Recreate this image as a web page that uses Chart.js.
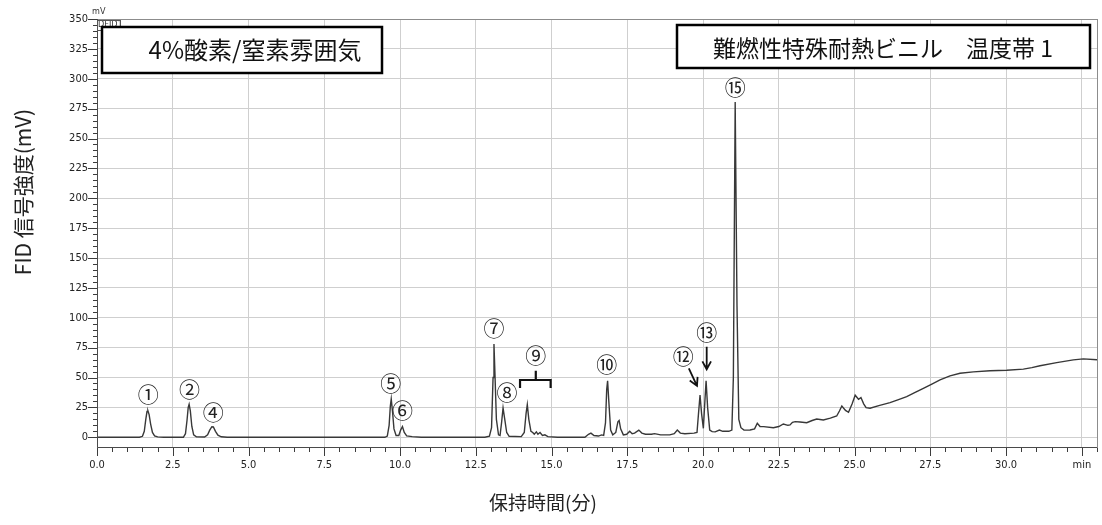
<!DOCTYPE html>
<html lang="ja">
<head>
<meta charset="utf-8">
<title>FID クロマトグラム</title>
<script src="https://cdn.jsdelivr.net/npm/chart.js@4.4.1/dist/chart.umd.min.js"></script>
<style>
  html, body { margin: 0; padding: 0; background: #fff; }
  #wrap { width: 1102px; height: 525px; }
</style>
</head>
<body>
<div id="wrap"><canvas id="c" width="1102" height="525"></canvas></div>
<script>
// Chromatogram trace: retention time (min) and FID signal (mV)
const retentionTime = [
  0.00, 1.40, 1.50, 1.56, 1.61, 1.65, 1.68, 1.72, 1.77, 1.83, 1.90, 2.00, 2.20,
  2.85, 2.92, 2.97, 3.01, 3.04, 3.08, 3.13, 3.19, 3.28, 3.55, 3.65, 3.72, 3.79,
  3.84, 3.91, 3.99, 4.10, 4.30,
  9.50, 9.58, 9.64, 9.68, 9.71, 9.75, 9.80, 9.87, 9.96, 10.02, 10.08, 10.14,
  10.22, 10.40, 10.70,
  12.80, 12.95, 13.02, 13.07, 13.10, 13.13, 13.18, 13.25, 13.30, 13.35, 13.40,
  13.45, 13.52, 13.60, 14.00, 14.10, 14.16, 14.20, 14.25, 14.32, 14.38, 14.43,
  14.50, 14.55, 14.62, 14.70, 14.78, 14.88, 15.20,
  16.10, 16.22, 16.30, 16.40, 16.55, 16.65, 16.72, 16.78, 16.82, 16.85, 16.89,
  16.95, 17.02, 17.12, 17.19, 17.23, 17.28, 17.37, 17.48, 17.58, 17.66, 17.74,
  17.88, 17.98, 18.10, 18.30, 18.40, 18.60, 18.90, 19.05, 19.15, 19.25, 19.40,
  19.70, 19.80, 19.85, 19.90, 19.95, 20.01, 20.06, 20.10, 20.15, 20.22, 20.30,
  20.40, 20.54, 20.65, 20.85, 20.95, 21.00, 21.06, 21.12, 21.18, 21.25, 21.35,
  21.55, 21.70, 21.79, 21.88, 22.00, 22.32, 22.50, 22.65, 22.80, 22.87, 22.95,
  23.04, 23.20, 23.42, 23.60, 23.75, 23.97, 24.20, 24.41, 24.50, 24.58, 24.70,
  24.80, 24.92, 25.02, 25.13, 25.21, 25.30, 25.38, 25.51, 25.80, 26.17, 26.45,
  26.72, 27.00, 27.27, 27.55, 27.82, 28.15, 28.48, 28.92, 29.47, 30.02, 30.57,
  30.85, 31.12, 31.67, 32.22, 32.55, 33.00
];
const signalMv = [
  0.0, 0.0, 0.8, 5.0, 15.0, 21.5, 22.2, 19.0, 11.0, 4.0, 1.2, 0.3, 0.0,
  0.0, 3.0, 14.0, 25.0, 27.6, 22.0, 9.0, 2.0, 0.4, 0.2, 2.0, 6.0, 8.8,
  8.6, 5.0, 1.8, 0.4, 0.0,
  0.0, 1.0, 10.0, 26.0, 32.0, 22.0, 7.0, 1.5, 1.5, 6.0, 9.0, 4.0,
  1.2, 0.5, 0.0,
  0.0, 1.0, 8.0, 50.0, 78.0, 55.0, 15.0, 2.0, 1.5, 12.0, 24.5,
  16.0, 4.0, 0.8, 0.5, 4.0, 20.0, 27.3, 15.0, 5.0, 4.0, 2.5,
  4.5, 2.5, 4.0, 1.5, 2.0, 0.5, 0.0,
  0.0, 2.5, 3.5, 1.5, 1.0, 2.0, 1.5, 12.0, 40.0, 47.3, 30.0,
  6.0, 2.0, 4.0, 13.0, 14.0, 7.0, 2.0, 2.5, 5.0, 3.0, 3.5,
  6.0, 3.5, 2.5, 2.5, 3.0, 2.0, 2.0, 3.0, 6.1, 3.5, 3.0,
  3.5, 4.0, 20.0, 35.4, 20.0, 7.5, 30.0, 47.3, 25.0, 6.0, 4.7,
  4.5, 6.0, 5.0, 5.0, 6.0, 50.0, 280.6, 110.0, 15.0, 8.0, 6.0,
  6.1, 7.0, 11.7, 9.0, 8.9, 8.0, 9.0, 11.1, 10.0, 10.3, 12.5,
  13.1, 12.8, 12.2, 14.0, 15.3, 14.5, 16.0, 17.8, 22.0, 26.2, 22.5,
  20.9, 28.0, 35.2, 31.8, 33.2, 28.0, 24.8, 24.3, 26.5, 29.0, 31.5,
  34.0, 37.5, 41.0, 44.5, 48.0, 51.4, 53.6, 54.7, 55.6, 56.1, 57.0,
  58.3, 59.8, 62.5, 64.8, 65.6, 64.8
];

// Axis ticks
const xTickValues = [0, 2.5, 5, 7.5, 10, 12.5, 15, 17.5, 20, 22.5, 25, 27.5, 30, 32.5];
const xTickLabels = ['0.0', '2.5', '5.0', '7.5', '10.0', '12.5', '15.0', '17.5', '20.0', '22.5', '25.0', '27.5', '30.0', 'min'];
const yTickValues = [0, 25, 50, 75, 100, 125, 150, 175, 200, 225, 250, 275, 300, 325, 350];
const yTickLabels = ['0', '25', '50', '75', '100', '125', '150', '175', '200', '225', '250', '275', '300', '325', '350'];

// Peak numbers, placed at (retention time, mV)
const peakNames = ['①', '②', '④', '⑤', '⑥', '⑦', '⑧', '⑨', '⑩', '⑫', '⑬', '⑮'];
const peakLabelTime = [1.69, 3.05, 3.84, 9.69, 10.08, 13.10, 13.53, 14.48, 16.82, 19.35, 20.12, 21.06];
const peakLabelLevel = [36.0, 40.4, 21.4, 45.7, 22.8, 91.5, 37.7, 68.9, 61.3, 68.3, 87.9, 292.7];

// Pointer arrows for peaks 12 and 13: [time, mV] start -> end
const arrowStart = [[19.53, 57.7], [20.12, 75.8]];
const arrowEnd = [[19.80, 43.0], [20.12, 56.9]];

// Brace grouping the peak 9 cluster
const braceTimes = [13.96, 14.48, 14.97];
const braceLevels = [41.3, 47.9, 55.7];

const atmosphereLabel = '4%酸素/窒素雰囲気';
const sampleLabel = '難燃性特殊耐熱ビニル　温度帯 1';
const yTitle = 'FID 信号強度(mV)';
const xTitle = '保持時間(分)';

const tickFont = "'Liberation Sans Narrow', 'DejaVu Sans Condensed', 'Roboto Condensed', 'Liberation Sans', sans-serif";
const jpFont = "'Noto Sans CJK JP', 'Noto Sans', sans-serif";

const decor = {
  id: 'decor',
  afterDraw(chart) {
    const { ctx, chartArea: a, scales: { x, y } } = chart;
    ctx.save();

    // plot frame
    ctx.strokeStyle = '#8c8c8c';
    ctx.lineWidth = 1;
    ctx.strokeRect(Math.round(a.left) + 0.5, Math.round(a.top) + 0.5,
      Math.round(a.right - a.left), Math.round(a.bottom - a.top));
    ctx.strokeStyle = '#4a4a4a';
    ctx.beginPath();
    ctx.moveTo(Math.round(a.left) + 0.5, Math.round(a.top));
    ctx.lineTo(Math.round(a.left) + 0.5, Math.round(a.bottom) + 0.5);
    ctx.lineTo(Math.round(a.right), Math.round(a.bottom) + 0.5);
    ctx.stroke();

    // tick marks: time every 0.5 min, signal every 5 mV
    ctx.strokeStyle = '#3c3c3c';
    for (let k = 0; k <= 66; k++) {
      const px = Math.round(x.getPixelForValue(k * 0.5)) + 0.5;
      const len = k % 5 === 0 ? 8 : 4;
      ctx.beginPath();
      ctx.moveTo(px, Math.round(a.bottom) + 1);
      ctx.lineTo(px, Math.round(a.bottom) + 1 + len);
      ctx.stroke();
    }
    for (let k = 0; k <= 70; k++) {
      const py = Math.round(y.getPixelForValue(k * 5)) + 0.5;
      const len = k % 5 === 0 ? 9 : 4;
      ctx.beginPath();
      ctx.moveTo(Math.round(a.left), py);
      ctx.lineTo(Math.round(a.left) - len, py);
      ctx.stroke();
    }

    // unit and detector tag
    ctx.fillStyle = '#333';
    ctx.font = "9px " + tickFont;
    ctx.textAlign = 'left';
    ctx.textBaseline = 'middle';
    ctx.fillText('mV', a.left - 5, 12);
    ctx.fillText('DFID1', a.left + 1, 25);
    ctx.strokeStyle = '#555';
    ctx.strokeRect(a.left + 0.5, 20.5, 23, 10);

    // boxed headings
    const box = (l, t, w, h, text, cx, cy, size) => {
      ctx.fillStyle = '#fff';
      ctx.fillRect(l, t, w, h);
      ctx.strokeStyle = '#000';
      ctx.lineWidth = 2.5;
      ctx.strokeRect(l, t, w, h);
      ctx.fillStyle = '#111';
      ctx.font = size + 'px ' + jpFont;
      ctx.textAlign = 'center';
      ctx.textBaseline = 'middle';
      ctx.fillText(text, cx, cy);
    };
    box(102, 27, 280, 46, atmosphereLabel, 255, 50, 24);
    box(677, 25, 413, 43, sampleLabel, 883, 48, 23);

    // peak numbers
    ctx.fillStyle = '#222';
    ctx.font = '21px ' + jpFont;
    ctx.textAlign = 'center';
    ctx.textBaseline = 'middle';
    peakNames.forEach((n, i) => {
      ctx.fillText(n, x.getPixelForValue(peakLabelTime[i]), y.getPixelForValue(peakLabelLevel[i]));
    });

    // arrows
    ctx.strokeStyle = '#111';
    ctx.lineWidth = 1.8;
    arrowStart.forEach((s, i) => {
      const x0 = x.getPixelForValue(s[0]), y0 = y.getPixelForValue(s[1]);
      const x1 = x.getPixelForValue(arrowEnd[i][0]), y1 = y.getPixelForValue(arrowEnd[i][1]);
      const ang = Math.atan2(y1 - y0, x1 - x0);
      const hl = 9;
      ctx.beginPath();
      ctx.moveTo(x0, y0);
      ctx.lineTo(x1, y1);
      ctx.moveTo(x1 - hl * Math.cos(ang - 0.5), y1 - hl * Math.sin(ang - 0.5));
      ctx.lineTo(x1, y1);
      ctx.lineTo(x1 - hl * Math.cos(ang + 0.5), y1 - hl * Math.sin(ang + 0.5));
      ctx.stroke();
    });

    // brace
    const bl = x.getPixelForValue(braceTimes[0]);
    const bm = x.getPixelForValue(braceTimes[1]);
    const br = x.getPixelForValue(braceTimes[2]);
    const yEnd = y.getPixelForValue(braceLevels[0]);
    const yBar = y.getPixelForValue(braceLevels[1]);
    const yTip = y.getPixelForValue(braceLevels[2]);
    ctx.lineWidth = 2.2;
    ctx.beginPath();
    ctx.moveTo(bl, yEnd);
    ctx.lineTo(bl, yBar);
    ctx.lineTo(br, yBar);
    ctx.lineTo(br, yEnd);
    ctx.moveTo(bm, yBar);
    ctx.lineTo(bm, yTip);
    ctx.stroke();

    // axis titles
    ctx.fillStyle = '#222';
    ctx.font = '19px ' + jpFont;
    ctx.textAlign = 'center';
    ctx.textBaseline = 'middle';
    ctx.fillText(xTitle, 543, 503);
    ctx.save();
    ctx.translate(23, 192);
    ctx.rotate(-Math.PI / 2);
    ctx.font = '21px ' + jpFont;
    ctx.fillText(yTitle, 0, 0);
    ctx.restore();

    ctx.restore();
  }
};

new Chart(document.getElementById('c'), {
  type: 'line',
  data: {
    datasets: [{
      data: retentionTime.map((t, i) => ({ x: t, y: signalMv[i] })),
      borderColor: '#383838',
      borderWidth: 1.4,
      pointRadius: 0,
      tension: 0,
      fill: false
    }]
  },
  options: {
    responsive: false,
    animation: false,
    devicePixelRatio: 1,
    layout: { padding: { top: 19, right: 5, left: 0, bottom: 0 } },
    plugins: { legend: { display: false }, tooltip: { enabled: false } },
    scales: {
      x: {
        type: 'linear',
        min: 0,
        max: 33,
        afterBuildTicks: s => { s.ticks = xTickValues.map(v => ({ value: v })); },
        afterFit: s => { s.height = 77.7; s.paddingLeft = 0; s.paddingRight = 0; },
        border: { display: false },
        grid: { color: '#cfcfcf', lineWidth: 1, drawTicks: false },
        ticks: {
          autoSkip: false,
          maxRotation: 0,
          padding: 11,
          color: '#222',
          font: { family: tickFont, size: 11 },
          callback: (v, i) => xTickLabels[i]
        }
      },
      y: {
        min: -8.4,
        max: 350,
        afterBuildTicks: s => { s.ticks = yTickValues.map(v => ({ value: v })); },
        afterFit: s => { s.width = 97; s.paddingTop = 0; s.paddingBottom = 0; },
        border: { display: false },
        grid: { color: '#cfcfcf', lineWidth: 1, drawTicks: false },
        ticks: {
          padding: 9,
          color: '#222',
          font: { family: tickFont, size: 11 },
          callback: (v, i) => yTickLabels[i]
        }
      }
    }
  },
  plugins: [decor]
});
</script>
</body>
</html>
